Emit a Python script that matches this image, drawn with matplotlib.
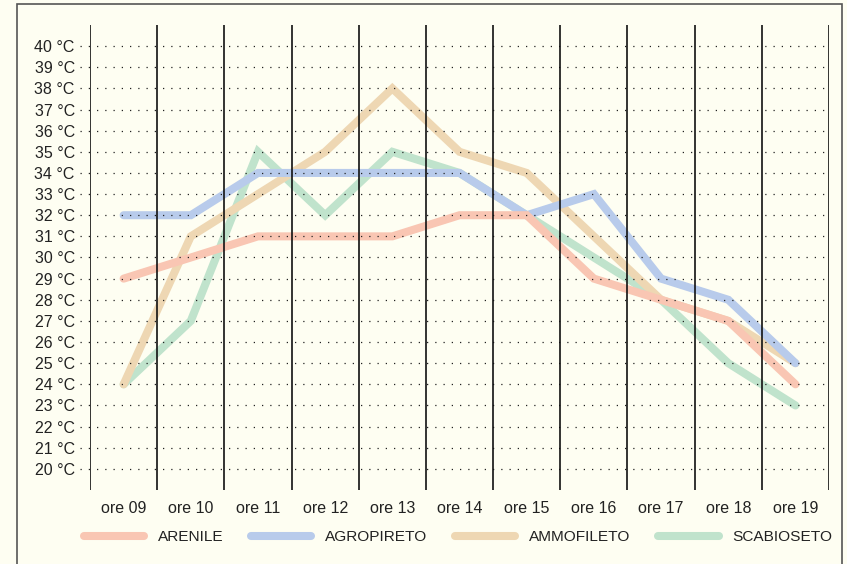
import matplotlib
matplotlib.use("Agg")
import matplotlib.pyplot as plt
from matplotlib.patches import Rectangle

plt.rcParams['font.family'] = ['Liberation Sans', 'DejaVu Sans']

ore = ['ore 09', 'ore 10', 'ore 11', 'ore 12', 'ore 13', 'ore 14',
       'ore 15', 'ore 16', 'ore 17', 'ore 18', 'ore 19']
arenile = [29, 30, 31, 31, 31, 32, 32, 29, 28, 27, 24]
agropireto = [32, 32, 34, 34, 34, 34, 32, 33, 29, 28, 25]
ammofileto = [24, 31, 33, 35, 38, 35, 34, 31, 28, 27, 25]
scabioseto = [24, 27, 35, 32, 35, 34, 32, 30, 28, 25, 23]
temps = list(range(20, 41))

series = [('ARENILE', arenile, '#f9c6b3'),
          ('AGROPIRETO', agropireto, '#b8cbeb'),
          ('AMMOFILETO', ammofileto, '#eed7b3'),
          ('SCABIOSETO', scabioseto, '#c0e3cc')]

bg = '#fefef2'
fig = plt.figure(figsize=(8.47, 5.64), dpi=100, facecolor=bg)
ax = fig.add_axes([0.1063, 0.1312, 0.8725, 0.8245], facecolor=bg)

x = list(range(len(ore)))
for i, (name, vals, col) in enumerate(series):
    ax.plot(x, vals, color=col, lw=5.8, solid_capstyle='round',
            solid_joinstyle='miter', label=name, zorder=5 - i)

ax.set_xlim(-0.5, len(ore) - 0.5)
ax.set_ylim(19, 41)

# dotted horizontal grid, a bit past the left edge
ax.hlines(temps, -0.65, len(ore) - 0.5, colors='#222222', lw=0.9,
          linestyles=(0, (1, 5.6)), clip_on=False, zorder=10)
# solid separators between hours
ax.vlines([i - 0.5 for i in range(len(ore) + 1)], 19, 41, colors='#111111',
          lw=1.2, zorder=11)

ax.set_xticks(x)
ax.set_xticklabels(ore)
ax.set_yticks(temps)
ax.set_yticklabels(['%d °C' % t for t in temps])
ax.tick_params(axis='both', length=0, labelsize=11.5, colors='#222222')
ax.tick_params(axis='y', pad=11)
ax.tick_params(axis='x', pad=8)
for s in ax.spines.values():
    s.set_visible(False)

fig.legend(loc='center', bbox_to_anchor=(0.541, 0.048), ncol=4, frameon=False,
           fontsize=11.1, handlelength=3.9, handletextpad=0.9,
           columnspacing=1.8, borderpad=0, labelcolor='#222222')

fig.patches.append(Rectangle((17 / 847, -0.05), (842 - 17) / 847, 1.05 - 4 / 564,
                             transform=fig.transFigure, fill=False,
                             edgecolor='#555555', lw=1.2))

fig.savefig('out.png', dpi=100, facecolor=bg)
